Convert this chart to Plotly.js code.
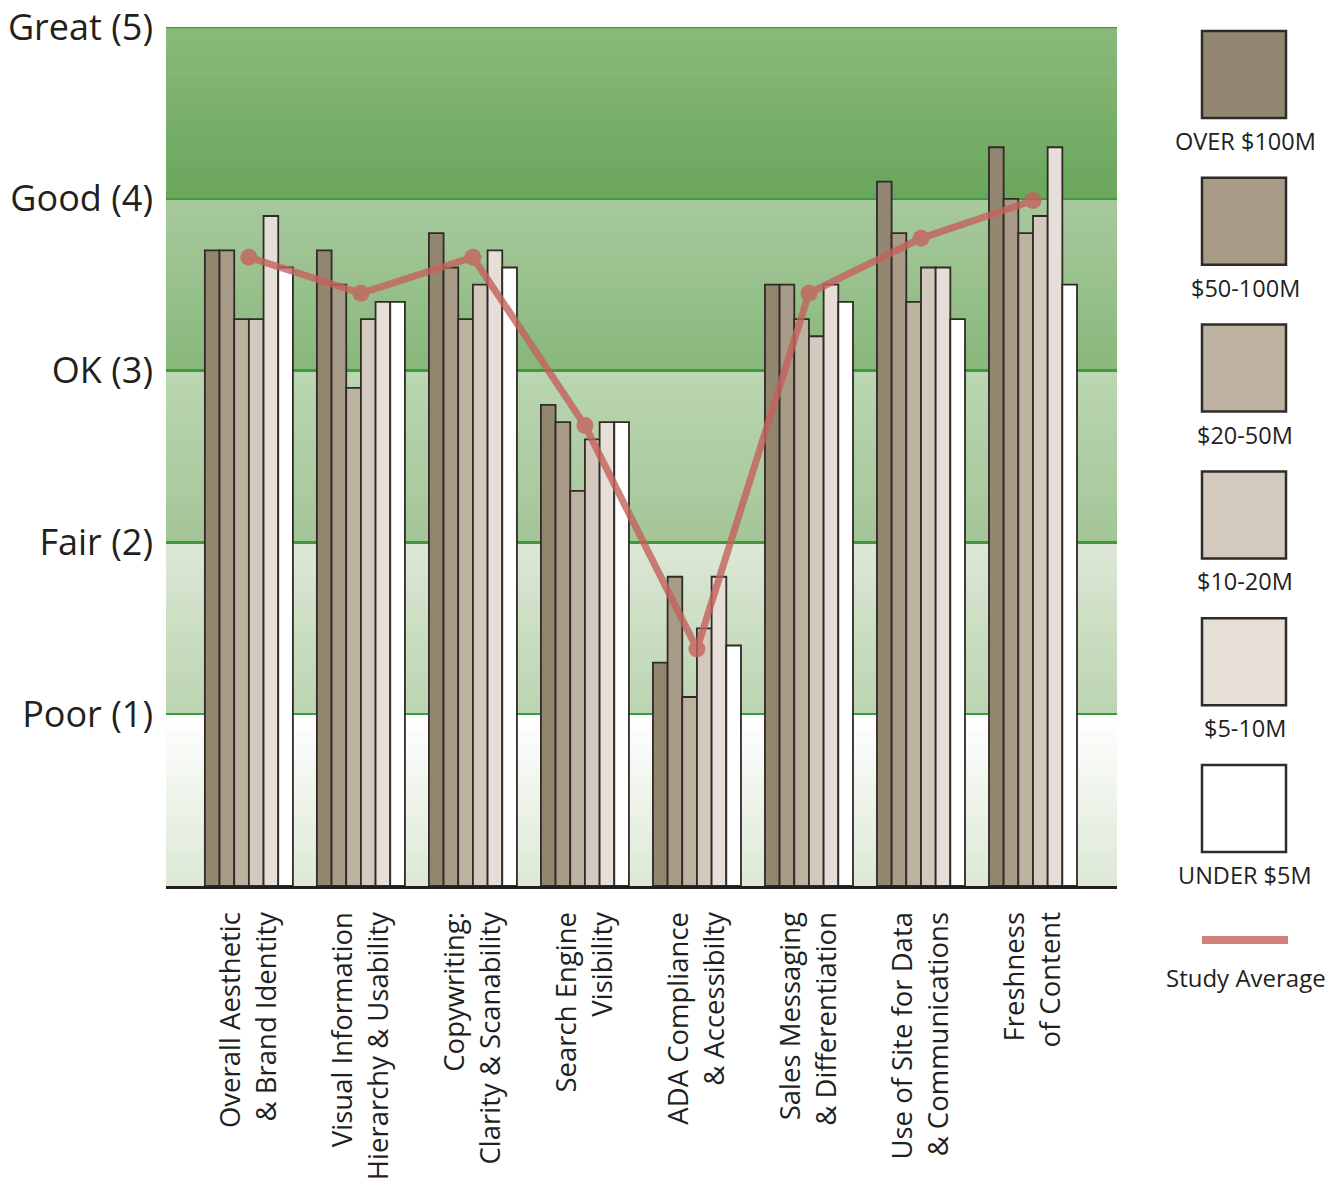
<!DOCTYPE html>
<html>
<head>
<meta charset="utf-8">
<script src="https://cdn.plot.ly/plotly-3.0.1.min.js"></script>
<style>html,body{margin:0;padding:0;background:#fff;}#chart{width:1341px;height:1188px;}</style>
</head>
<body>
<div id="chart"></div>
<script>
// ---- DATA ----
const categories = [
  "Overall Aesthetic<br>& Brand Identity",
  "Visual Information<br>Hierarchy & Usability",
  "Copywriting:<br>Clarity & Scanability",
  "Search Engine<br>Visibility",
  "ADA Compliance<br>& Accessibilty",
  "Sales Messaging<br>& Differentiation",
  "Use of Site for Data<br>& Communications",
  "Freshness<br>of Content"
];
const seriesNames = ["OVER $100M", "$50-100M", "$20-50M", "$10-20M", "$5-10M", "UNDER $5M"];
const over100M  = [3.7, 3.7, 3.8, 2.8, 1.3, 3.5, 4.1, 4.3];
const m50to100  = [3.7, 3.5, 3.6, 2.7, 1.8, 3.5, 3.8, 4.0];
const m20to50   = [3.3, 2.9, 3.3, 2.3, 1.1, 3.3, 3.4, 3.8];
const m10to20   = [3.3, 3.3, 3.5, 2.6, 1.5, 3.2, 3.6, 3.9];
const m5to10    = [3.9, 3.4, 3.7, 2.7, 1.8, 3.5, 3.6, 4.3];
const under5M   = [3.6, 3.4, 3.6, 2.7, 1.4, 3.4, 3.3, 3.5];
const studyAverage = [3.66, 3.45, 3.66, 2.68, 1.38, 3.45, 3.77, 3.99];
const avgName = "Study Average";
const yTickVals = [1, 2, 3, 4, 5];
const yTickText = ["Poor (1)", "Fair (2)", "OK (3)", "Good (4)", "Great (5)"];

// ---- STYLE ----
const seriesColors = ["#928671", "#a89b87", "#bdb1a0", "#d3c9bc", "#e6dfd8", "#ffffff"];
const barLine = "#2f2b29";
const avgColor = "#c4625c";
const gridGreen = "#3f9a3c";
const textColor = "#231f20";
const FONT = "Open Sans, Noto Sans, sans-serif";

const seriesValues = [over100M, m50to100, m20to50, m10to20, m5to10, under5M];
const traces = seriesValues.map((vals, i) => ({
  type: "bar", name: seriesNames[i], x: categories, y: vals,
  marker: {color: seriesColors[i], line: {color: barLine, width: 1.8}},
  hoverinfo: "skip", showlegend: false
}));
traces.push({
  type: "scatter", mode: "lines+markers", name: avgName, x: categories, y: studyAverage,
  line: {color: avgColor, width: 7}, marker: {color: avgColor, size: 17},
  opacity: 0.8, showlegend: false, hoverinfo: "skip"
});

// ---- Layout geometry (pixels) ----
const PL = 166, PR = 1117, PT = 27, PB = 886;
const W = 1341, H = 1188;
const pX = px => (px - PL) / (PR - PL);
const pY = py => (PB - py) / (PB - PT);

// background bands with vertical gradients (bottom colour, top colour)
const bands = [
  ["#dce8d5", "#ffffff"],
  ["#bad4b0", "#dde8d6"],
  ["#a3c597", "#bbd6b2"],
  ["#88b87a", "#a8c99e"],
  ["#6aa65c", "#88ba7a"]
];
function hex2rgb(h){return [1,3,5].map(i=>parseInt(h.substr(i,2),16));}
const shapes = [];
const N = 30;
bands.forEach((b, bi) => {
  const c0 = hex2rgb(b[0]), c1 = hex2rgb(b[1]);
  for (let k = 0; k < N; k++) {
    const t = (k + 0.5) / N;
    const c = c0.map((v, j) => Math.round(v + (c1[j] - v) * t));
    shapes.push({type: "rect", xref: "paper", yref: "y", layer: "below",
      x0: 0, x1: 1, y0: bi + k / N, y1: bi + (k + 1) / N + 0.004,
      fillcolor: `rgb(${c[0]},${c[1]},${c[2]})`, line: {width: 0}});
  }
});
// top rating line (range edge)
shapes.push({type: "line", xref: "paper", yref: "y", layer: "below",
  x0: 0, x1: 1, y0: yTickVals[yTickVals.length - 1], y1: yTickVals[yTickVals.length - 1],
  line: {color: gridGreen, width: 2.5}});

// custom legend
const annotations = [];
const legTop0 = 31, legStep = 146.8, legSize = 87;
seriesNames.forEach((nm, i) => {
  const top = legTop0 + i * legStep;
  shapes.push({type: "rect", xref: "paper", yref: "paper",
    x0: pX(1202), x1: pX(1286), y0: pY(top + legSize), y1: pY(top),
    fillcolor: seriesColors[i], line: {color: barLine, width: 2.5}});
  annotations.push({xref: "paper", yref: "paper", x: pX(1245), y: pY(top + 110),
    xanchor: "center", yanchor: "middle", showarrow: false, text: nm,
    font: {family: FONT, size: 23.5, color: textColor}});
});
shapes.push({type: "line", xref: "paper", yref: "paper",
  x0: pX(1202), x1: pX(1288), y0: pY(940), y1: pY(940),
  line: {color: "#d4807a", width: 8}});
annotations.push({xref: "paper", yref: "paper", x: pX(1246), y: pY(978),
  xanchor: "center", yanchor: "middle", showarrow: false, text: avgName,
  font: {family: FONT, size: 24, color: textColor}});

const layout = {
  width: W, height: H,
  margin: {l: PL, r: W - PR, t: PT, b: H - PB, pad: 0},
  paper_bgcolor: "#ffffff", plot_bgcolor: "rgba(0,0,0,0)",
  barmode: "group", bargap: 0.214, bargroupgap: 0,
  showlegend: false,
  font: {family: FONT, color: textColor},
  xaxis: {
    type: "category", range: [-0.74, 7.75], fixedrange: true,
    showgrid: false, zeroline: false,
    showline: true, linecolor: "#231f20", linewidth: 3,
    ticks: "", tickangle: -90, ticklabelstandoff: 12,
    tickfont: {family: FONT, size: 27.5, color: textColor}
  },
  yaxis: {
    range: [0, 5], fixedrange: true,
    tickvals: yTickVals, ticktext: yTickText,
    showgrid: true, gridcolor: gridGreen, gridwidth: 2.5,
    zeroline: false, showline: false, ticks: "",
    ticklabelstandoff: 12,
    tickfont: {family: FONT, size: 36, color: textColor}
  },
  shapes: shapes,
  annotations: annotations
};

Plotly.newPlot("chart", traces, layout, {staticPlot: true, displayModeBar: false});
</script>
</body>
</html>
